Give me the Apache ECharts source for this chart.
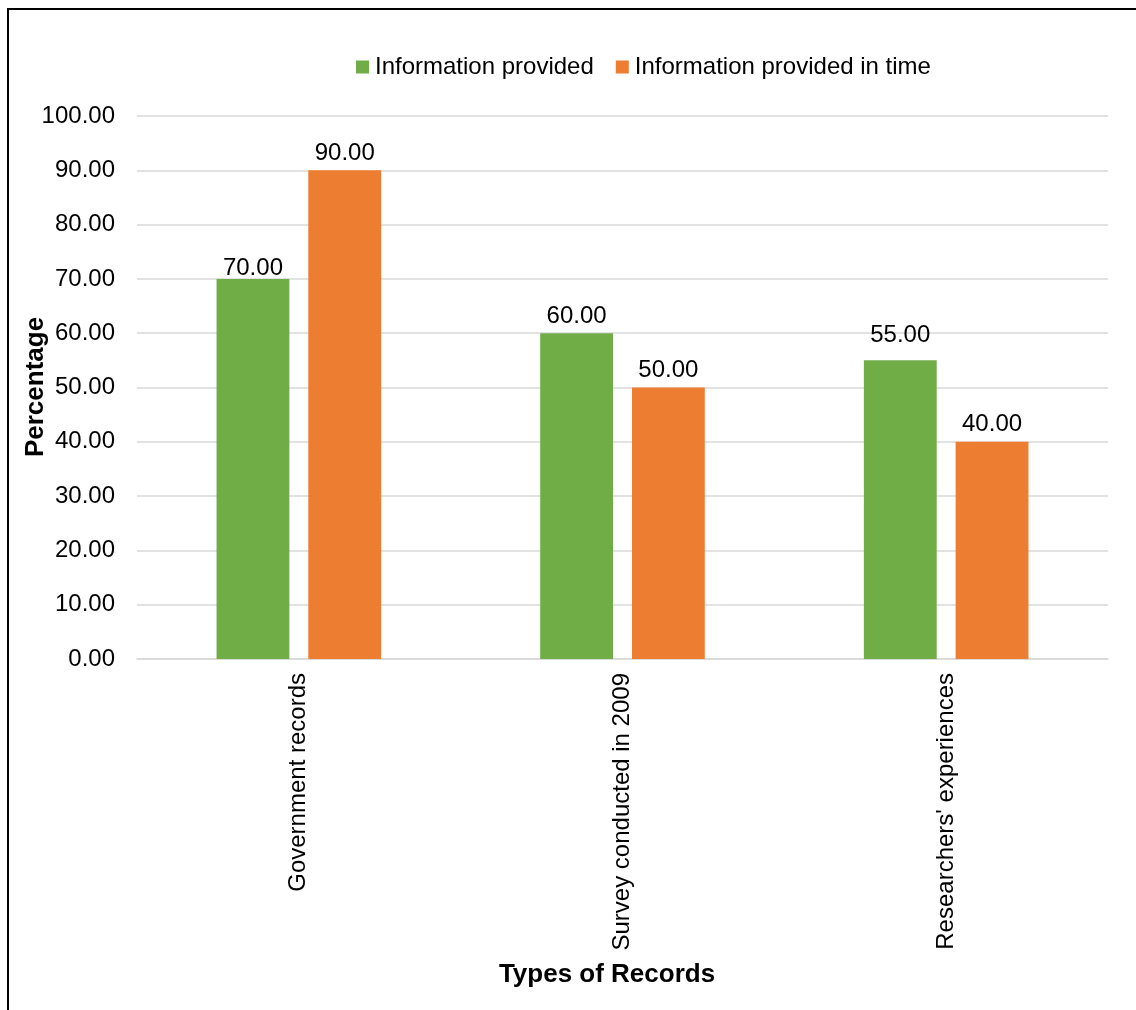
<!DOCTYPE html>
<html><head><meta charset="utf-8">
<script src="https://cdn.jsdelivr.net/npm/echarts@6/dist/echarts.min.js"></script>
<style>
html,body{margin:0;padding:0;background:#fff;}
#frame{position:absolute;left:7px;top:8px;width:1140px;height:1010px;border-left:2px solid #000;border-top:2px solid #000;box-sizing:border-box;}
#c{position:absolute;left:0;top:0;width:1136px;height:1010px;}
</style></head>
<body>
<div id="frame"></div>
<div id="c"></div>
<script>
const categories = ["Government records", "Survey conducted in 2009", "Researchers' experiences"];
const infoProvided = [70, 60, 55];
const infoProvidedInTime = [90, 50, 40];
const yTicks = {min: 0, max: 100, interval: 10};
const xAxisTitle = 'Types of Records';
const yAxisTitle = 'Percentage';

// label placement tweaks (pixels, positive = down), kept separate from the data
const labelShift1 = [6, 0, -8];
const labelShift2 = [0, 0, 0];

const chart = echarts.init(document.getElementById('c'), null, {renderer: 'canvas'});
const font = 'Liberation Sans, Arial, sans-serif';
const lbl = {show: true, position: 'top', distance: 5, color: '#000', fontSize: 24, fontFamily: font, formatter: p => p.value.toFixed(2)};
const withShift = (vals, shifts) => vals.map((v, i) => ({value: v, label: {offset: [0, shifts[i]]}}));
chart.setOption({
  animation: false,
  textStyle: {fontFamily: font},
  legend: {
    left: 351, top: 50, itemWidth: 13, itemHeight: 13, itemGap: 22,
    icon: 'rect',
    textStyle: {fontSize: 24, color: '#000', fontFamily: font, padding: [0,0,0,1]},
    data: ['Information provided', 'Information provided in time']
  },
  grid: {left: 137, right: 28, top: 116, bottom: 351, containLabel: false, outerBoundsMode: 'none'},
  graphic: [{
    type: 'text', x: 607, y: 975, z: 10,
    style: {text: xAxisTitle, fontSize: 26, fontWeight: 'bold', fill: '#000', fontFamily: font,
            textAlign: 'center', textVerticalAlign: 'middle'}
  }, {
    type: 'text', x: 36, y: 387, rotation: Math.PI / 2, z: 10,
    style: {text: yAxisTitle, fontSize: 26, fontWeight: 'bold', fill: '#000', fontFamily: font,
            textAlign: 'center', textVerticalAlign: 'middle'}
  }],
  xAxis: {
    type: 'category', data: categories,
    axisLine: {show: true, lineStyle: {color: '#d9d9d9', width: 1.5}},
    axisTick: {show: false},
    axisLabel: {rotate: 90, color: '#000', fontSize: 24, fontFamily: font, margin: 14}
  },
  yAxis: {
    type: 'value', min: yTicks.min, max: yTicks.max, interval: yTicks.interval,
    axisLine: {show: false}, axisTick: {show: false},
    splitLine: {lineStyle: {color: '#d9d9d9', width: 1.5}},
    axisLabel: {color: '#000', fontSize: 24, fontFamily: font, margin: 22, formatter: v => v.toFixed(2)}
  },
  series: [
    {name: 'Information provided', type: 'bar', data: withShift(infoProvided, labelShift1), barWidth: '22.5%', barGap: '26%',
     itemStyle: {color: '#70AD47'}, label: lbl},
    {name: 'Information provided in time', type: 'bar', data: withShift(infoProvidedInTime, labelShift2), barWidth: '22.5%',
     itemStyle: {color: '#ED7D31'}, label: lbl}
  ]
});
</script>
</body></html>
